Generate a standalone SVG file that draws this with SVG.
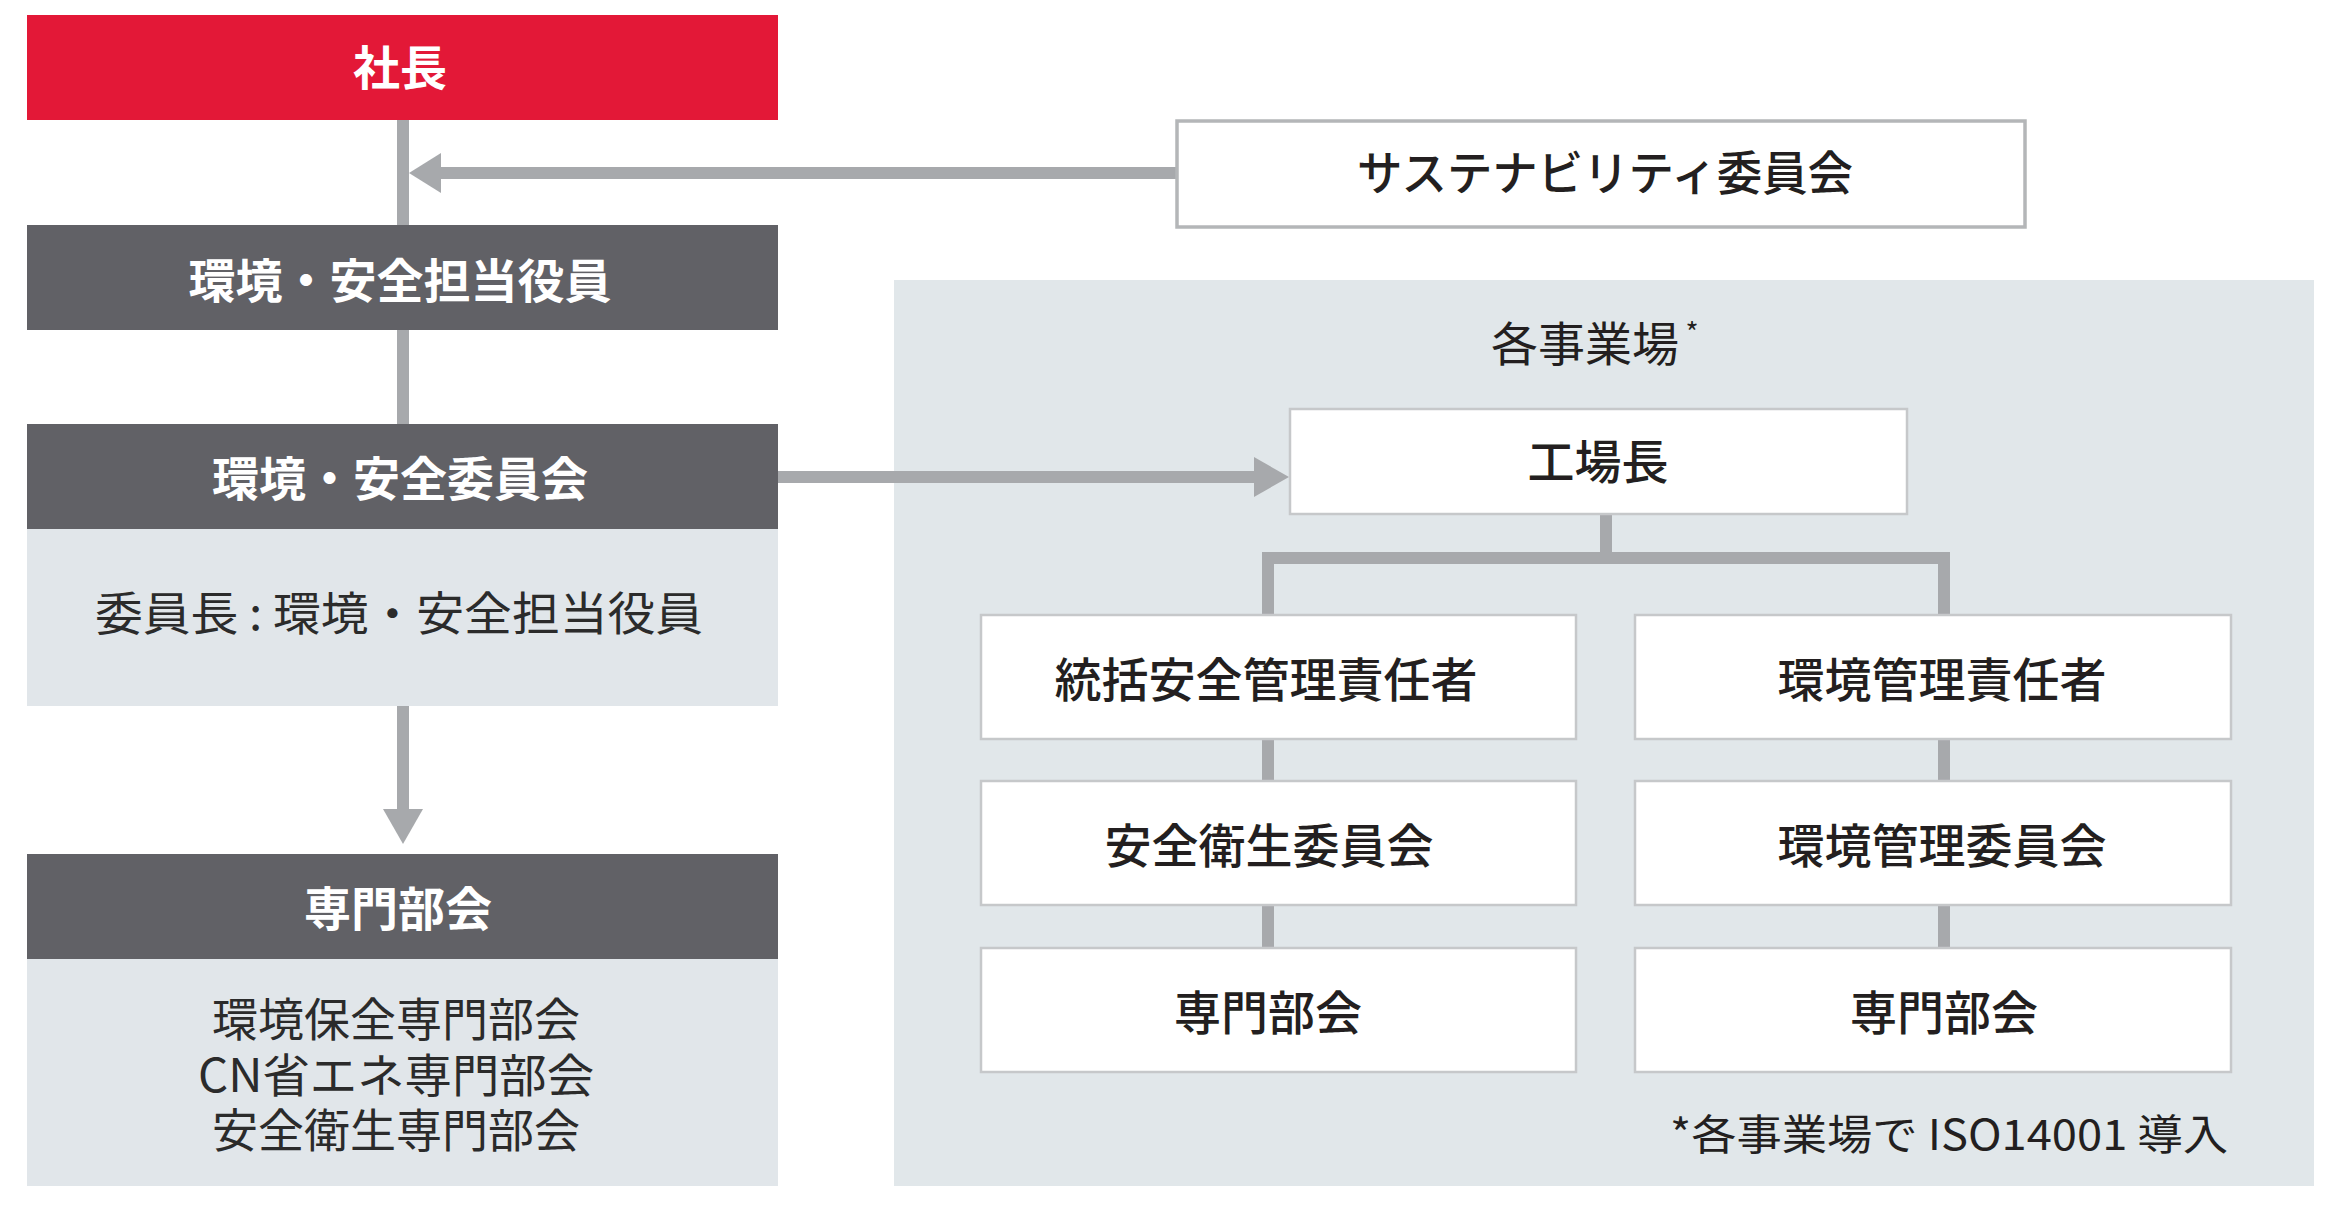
<svg xmlns="http://www.w3.org/2000/svg" width="2340" height="1212" viewBox="0 0 2340 1212">
<style>
text{font-family:"Noto Sans CJK JP","Noto Sans",sans-serif;dominant-baseline:central;text-anchor:middle}
.hd{fill:#ffffff;font-weight:bold;font-size:47px}
.lt{fill:#2b2b2b;font-size:46px}
.bx{fill:#231f20;font-size:47px;font-weight:500}
.wb{fill:#ffffff;stroke:#c6c8ca;stroke-width:2.5}
.dk{fill:#616166}
.lb{fill:#e1e6ea}
.cn{stroke:#a7a9ac;stroke-width:12;fill:none}
.ah{fill:#a7a9ac}
</style>
<rect width="2340" height="1212" fill="#ffffff"/>
<g id="panel">
<rect x="894" y="280" width="1420" height="906" fill="#e1e7ea"/>
<text class="bx" x="1585" y="340" style="font-weight:normal">各事業場</text>
<text x="1692" y="331" style="font-size:28px;fill:#231f20">*</text>
<text x="2228" y="1131" style="font-size:42px;fill:#231f20;text-anchor:end" textLength="558" lengthAdjust="spacingAndGlyphs">*各事業場で ISO14001 導入</text>
</g>
<g id="connectors">
<line class="cn" x1="403" y1="120" x2="403" y2="225"/>
<line class="cn" x1="403" y1="330" x2="403" y2="424"/>
<line class="cn" x1="1177" y1="173" x2="435" y2="173"/>
<polygon class="ah" points="409,173 441,153 441,193"/>
<line class="cn" x1="778" y1="477" x2="1258" y2="477"/>
<polygon class="ah" points="1289,477 1254,457 1254,497"/>
<line class="cn" x1="403" y1="706" x2="403" y2="812"/>
<polygon class="ah" points="403,844 383,809 423,809"/>
<line class="cn" x1="1606" y1="514" x2="1606" y2="558"/>
<polyline class="cn" points="1268,615 1268,558 1944,558 1944,615"/>
<line class="cn" x1="1268" y1="739" x2="1268" y2="781"/>
<line class="cn" x1="1268" y1="905" x2="1268" y2="948"/>
<line class="cn" x1="1944" y1="739" x2="1944" y2="781"/>
<line class="cn" x1="1944" y1="905" x2="1944" y2="948"/>
</g>
<g id="president">
<rect x="27" y="15" width="751" height="105" fill="#e31837"/>
<text class="hd" x="400" y="64">社長</text>
</g>
<g id="officer">
<rect class="dk" x="27" y="225" width="751" height="105"/>
<text class="hd" x="400" y="277">環境・安全担当役員</text>
</g>
<g id="env-safety-committee">
<rect class="dk" x="27" y="424" width="751" height="105"/>
<text class="hd" x="400" y="475">環境・安全委員会</text>
<rect class="lb" x="27" y="529" width="751" height="177"/>
<text class="lt" x="399" y="610" textLength="608" lengthAdjust="spacingAndGlyphs">委員長 : 環境・安全担当役員</text>
</g>
<g id="expert-committees">
<rect class="dk" x="27" y="854" width="751" height="105"/>
<text class="hd" x="398" y="905">専門部会</text>
<rect class="lb" x="27" y="959" width="751" height="227"/>
<text class="lt"><tspan x="396" y="1016">環境保全専門部会</tspan><tspan x="396" y="1072" textLength="396" lengthAdjust="spacingAndGlyphs">CN省エネ専門部会</tspan><tspan x="396" y="1127">安全衛生専門部会</tspan></text>
</g>
<g id="sustainability-committee">
<rect x="1177" y="121" width="848" height="106" fill="#ffffff" stroke="#b4b6b8" stroke-width="3.5"/>
<text class="bx" x="1605" y="169" textLength="496" lengthAdjust="spacingAndGlyphs">サステナビリティ委員会</text>
</g>
<g id="plant-manager">
<rect class="wb" x="1290" y="409" width="617" height="105"/>
<text class="bx" x="1598" y="458">工場長</text>
</g>
<g id="safety-manager">
<rect class="wb" x="981" y="615" width="595" height="124"/>
<text class="bx" x="1266" y="676">統括安全管理責任者</text>
</g>
<g id="env-manager">
<rect class="wb" x="1635" y="615" width="596" height="124"/>
<text class="bx" x="1942" y="676">環境管理責任者</text>
</g>
<g id="safety-health-committee">
<rect class="wb" x="981" y="781" width="595" height="124"/>
<text class="bx" x="1269" y="842">安全衛生委員会</text>
</g>
<g id="env-management-committee">
<rect class="wb" x="1635" y="781" width="596" height="124"/>
<text class="bx" x="1942" y="842">環境管理委員会</text>
</g>
<g id="left-expert">
<rect class="wb" x="981" y="948" width="595" height="124"/>
<text class="bx" x="1268" y="1009">専門部会</text>
</g>
<g id="right-expert">
<rect class="wb" x="1635" y="948" width="596" height="124"/>
<text class="bx" x="1944" y="1009">専門部会</text>
</g>
</svg>
